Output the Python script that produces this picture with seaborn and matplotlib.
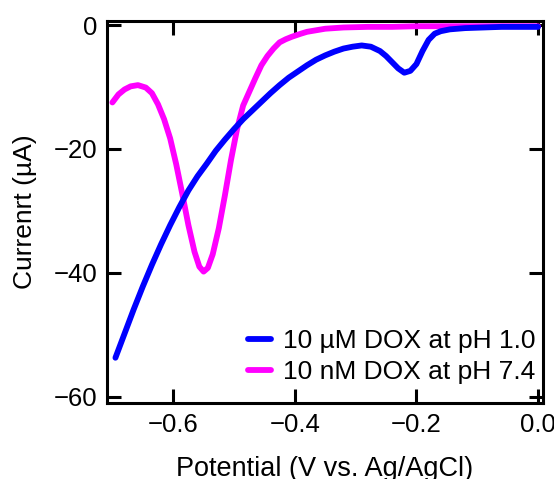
import matplotlib
matplotlib.use('Agg')
import matplotlib.pyplot as plt
import seaborn as sns

# Square wave voltammograms
potential_ph1 = [-0.695, -0.68, -0.665, -0.65, -0.635, -0.62, -0.605, -0.59, -0.575, -0.56,
                 -0.545, -0.53, -0.515, -0.50, -0.485, -0.47, -0.455, -0.44, -0.425, -0.41,
                 -0.395, -0.38, -0.365, -0.35, -0.335, -0.32, -0.305, -0.29, -0.275, -0.26,
                 -0.25, -0.24, -0.23, -0.22, -0.21, -0.20, -0.19, -0.18, -0.17, -0.16,
                 -0.145, -0.12, -0.09, -0.06, -0.03, 0.0]
current_ph1 = [-53.7, -49.8, -45.9, -42.2, -38.7, -35.4, -32.3, -29.4, -26.7, -24.4,
               -22.4, -20.3, -18.5, -16.8, -15.2, -13.8, -12.4, -11.0, -9.7, -8.5,
               -7.5, -6.5, -5.6, -4.9, -4.3, -3.8, -3.5, -3.3, -3.5, -4.2,
               -5.0, -6.0, -7.0, -7.7, -7.4, -6.3, -4.2, -2.4, -1.4, -1.0,
               -0.7, -0.5, -0.4, -0.3, -0.3, -0.3]

potential_ph74 = [-0.70, -0.69, -0.68, -0.67, -0.658, -0.645, -0.635, -0.625, -0.615, -0.605,
                  -0.595, -0.585, -0.575, -0.565, -0.557, -0.55, -0.543, -0.535, -0.525, -0.515,
                  -0.505, -0.495, -0.485, -0.475, -0.465, -0.455, -0.445, -0.435, -0.425, -0.415,
                  -0.405, -0.39, -0.38, -0.35, -0.32, -0.28, -0.24, -0.20, -0.15, -0.10,
                  -0.05, 0.0]
current_ph74 = [-12.5, -11.2, -10.4, -9.9, -9.7, -10.1, -11.0, -12.8, -15.2, -18.3,
                -22.5, -27.3, -32.3, -36.6, -39.0, -39.8, -39.2, -37.0, -32.8, -27.5,
                -21.8, -16.8, -13.0, -10.8, -8.6, -6.5, -5.0, -3.8, -2.8, -2.3,
                -1.9, -1.4, -1.1, -0.6, -0.4, -0.3, -0.3, -0.2, -0.2, -0.2,
                -0.2, -0.2]

label_ph1 = "10 µM DOX at pH 1.0"
label_ph74 = "10 nM DOX at pH 7.4"
x_ticks = [-0.6, -0.4, -0.2, 0.0]
y_ticks = [0, -20, -40, -60]

sns.set_style("ticks")
plt.rcParams['font.family'] = ['Liberation Sans', 'DejaVu Sans']
plt.rcParams['text.color'] = 'black'
plt.rcParams['axes.labelcolor'] = 'black'

fig = plt.figure(figsize=(5.54, 4.79), dpi=100)
ax = fig.add_axes([0.193, 0.1587, 0.787, 0.7975])

sns.lineplot(x=potential_ph1, y=current_ph1, color='#0000ff', linewidth=4.2,
             label=label_ph1, sort=False, ax=ax, zorder=3)
sns.lineplot(x=potential_ph74, y=current_ph74, color='#ff00ff', linewidth=4.2,
             label=label_ph74, sort=False, ax=ax, zorder=2)

ax.set_xlim(-0.709, 0.008)
ax.set_ylim(-61.0, 0.65)
ax.set_xticks(x_ticks)
ax.set_yticks(y_ticks)

for side in ax.spines.values():
    side.set_linewidth(2.2)
    side.set_color('black')
ax.tick_params(direction='in', length=10, width=2.2, top=True, right=True,
               labelsize=18.5, pad=7, colors='black')

ax.set_xlabel("Potential (V vs. Ag/AgCl)", fontsize=19.5)
ax.set_ylabel("Currenrt (µA)", fontsize=19)
ax.xaxis.set_label_coords(0.5, -0.14)
ax.yaxis.set_label_coords(-0.16, 0.5)

ax.legend(loc='lower right', bbox_to_anchor=(0.982, 0.05), frameon=False,
          fontsize=19, handlelength=0.87, handletextpad=0.45, labelspacing=0.27,
          borderpad=0, borderaxespad=0)

fig.savefig("out.png", dpi=100)
plt.close(fig)
